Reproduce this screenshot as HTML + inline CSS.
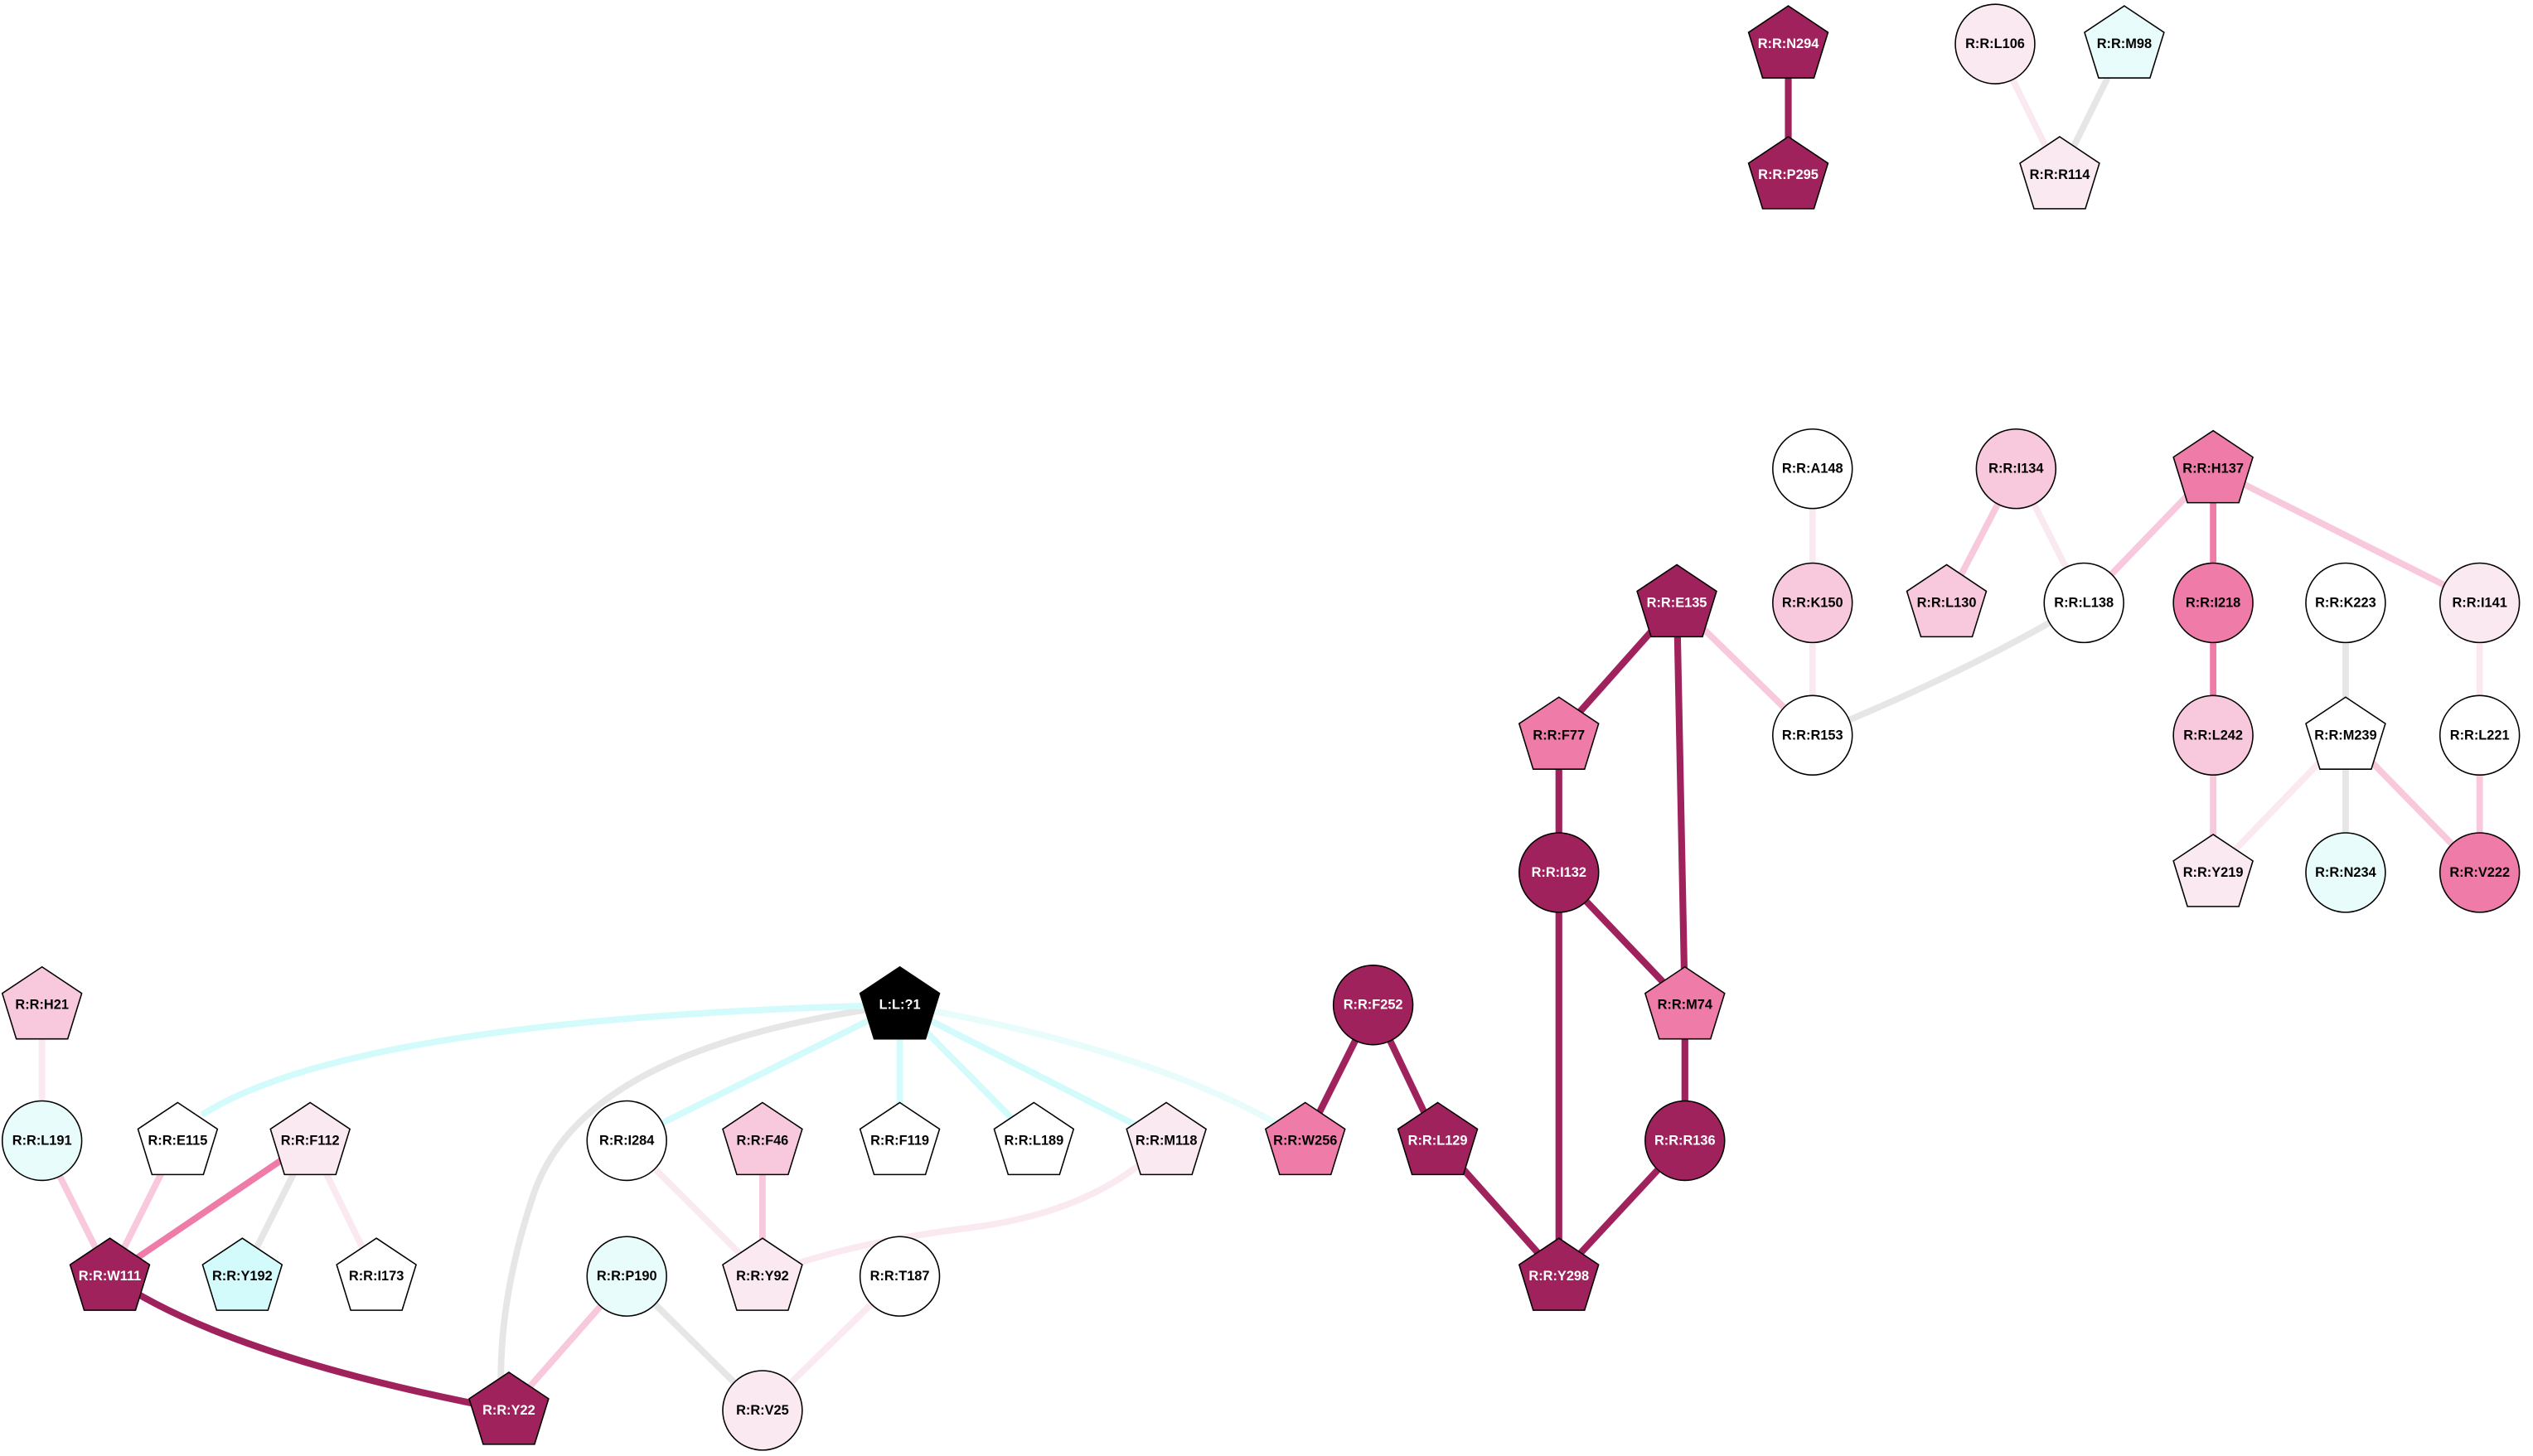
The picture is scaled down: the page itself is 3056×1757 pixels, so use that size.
<!DOCTYPE html>
<html><head><meta charset="utf-8"><style>html,body{margin:0;padding:0;background:#fff}svg{display:block}text{font-family:"Liberation Sans",sans-serif;font-weight:bold;font-size:8.4px;text-anchor:middle;dominant-baseline:central}</style></head>
<body>
<svg width="3056" height="1757" viewBox="0 0 1568 901" xmlns="http://www.w3.org/2000/svg">
<defs>
<polygon id="pg" points="0,-23.6 24.6,-7.2 15.9,21 -15.9,21 -24.6,-7.2" stroke="#000" stroke-width="0.8"/>
</defs>
<g fill="none" stroke-linecap="butt">
<!-- edges -->
<g stroke="#a0225d" stroke-width="4.2">
<line x1="1107" y1="27" x2="1107" y2="108"/>
<line x1="1038" y1="373" x2="965" y2="455"/>
<line x1="1038" y1="373" x2="1043" y2="622"/>
<line x1="965" y1="455" x2="965" y2="540"/>
<line x1="965" y1="540" x2="1043" y2="622"/>
<line x1="965" y1="540" x2="965" y2="790"/>
<line x1="1043" y1="622" x2="1043" y2="706"/>
<line x1="1043" y1="706" x2="965" y2="790"/>
<line x1="850" y1="622" x2="808" y2="706"/>
<line x1="850" y1="622" x2="890" y2="706"/>
<line x1="890" y1="706" x2="965" y2="790"/>
<path d="M68,790 Q140,840 315,873"/>
</g>
<g stroke="#ef7ba9" stroke-width="4">
<line x1="1370" y1="290" x2="1370" y2="373"/>
<line x1="1370" y1="373" x2="1370" y2="455"/>
<line x1="192" y1="706" x2="68" y2="790"/>
</g>
<g stroke="#f8c8dc" stroke-width="4">
<line x1="1248" y1="290" x2="1205" y2="373"/>
<line x1="1370" y1="290" x2="1290" y2="373"/>
<line x1="1370" y1="290" x2="1535" y2="373"/>
<line x1="1038" y1="373" x2="1122" y2="455"/>
<line x1="1370" y1="455" x2="1370" y2="540"/>
<line x1="1452" y1="455" x2="1535" y2="540"/>
<line x1="1535" y1="455" x2="1535" y2="540"/>
<line x1="26" y1="706" x2="68" y2="790"/>
<line x1="110" y1="706" x2="68" y2="790"/>
<line x1="388" y1="790" x2="315" y2="873"/>
<line x1="472" y1="706" x2="472" y2="790"/>
</g>
<g stroke="#fbe9f1" stroke-width="4">
<line x1="1235" y1="27" x2="1275" y2="108"/>
<line x1="1122" y1="290" x2="1122" y2="373"/>
<line x1="1122" y1="373" x2="1122" y2="455"/>
<line x1="1248" y1="290" x2="1290" y2="373"/>
<line x1="1452" y1="455" x2="1370" y2="540"/>
<line x1="1535" y1="373" x2="1535" y2="455"/>
<line x1="26" y1="622" x2="26" y2="706"/>
<line x1="192" y1="706" x2="233" y2="790"/>
<line x1="388" y1="706" x2="472" y2="790"/>
<line x1="557" y1="790" x2="472" y2="873"/>
<path d="M722,706 Q680,750 600,760 Q520,770 472,790"/>
</g>
<g stroke="#e6e6e6" stroke-width="4">
<line x1="1315" y1="27" x2="1275" y2="108"/>
<path d="M1290,373 Q1220,415 1122,455"/>
<line x1="1452" y1="373" x2="1452" y2="455"/>
<line x1="1452" y1="455" x2="1452" y2="540"/>
<line x1="192" y1="706" x2="150" y2="790"/>
<line x1="388" y1="790" x2="472" y2="873"/>
<path d="M557,622 C420,640 350,680 330,740 C310,800 310,840 310,860"/>
</g>
<g stroke="#d4fbfb" stroke-width="4">
<path d="M557,622 Q220,630 125,690"/>
<line x1="557" y1="622" x2="388" y2="706"/>
<line x1="557" y1="622" x2="557" y2="706"/>
<line x1="557" y1="622" x2="640" y2="706"/>
<line x1="557" y1="622" x2="722" y2="706"/>
</g>
<path d="M557,622 Q720,650 808,706" stroke="#e8fcfb" stroke-width="4"/>
</g>
<!-- nodes -->
<g stroke="#000" stroke-width="0.8">
<!-- circles -->
<circle cx="1235" cy="27" r="24.6" fill="#fbe9f1"/>
<circle cx="1122" cy="290" r="24.6" fill="#fff"/>
<circle cx="1248" cy="290" r="24.6" fill="#f8c8dc"/>
<circle cx="1122" cy="373" r="24.6" fill="#f8c8dc"/>
<circle cx="1290" cy="373" r="24.6" fill="#fff"/>
<circle cx="1370" cy="373" r="24.6" fill="#ef7ba9"/>
<circle cx="1452" cy="373" r="24.6" fill="#fff"/>
<circle cx="1535" cy="373" r="24.6" fill="#fbe9f1"/>
<circle cx="1122" cy="455" r="24.6" fill="#fff"/>
<circle cx="1370" cy="455" r="24.6" fill="#f8c8dc"/>
<circle cx="1535" cy="455" r="24.6" fill="#fff"/>
<circle cx="965" cy="540" r="24.6" fill="#a0225d"/>
<circle cx="1452" cy="540" r="24.6" fill="#e8fcfb"/>
<circle cx="1535" cy="540" r="24.6" fill="#ef7ba9"/>
<circle cx="850" cy="622" r="24.6" fill="#a0225d"/>
<circle cx="26" cy="706" r="24.6" fill="#e8fcfb"/>
<circle cx="388" cy="706" r="24.6" fill="#fff"/>
<circle cx="1043" cy="706" r="24.6" fill="#a0225d"/>
<circle cx="388" cy="790" r="24.6" fill="#e8fcfb"/>
<circle cx="557" cy="790" r="24.6" fill="#fff"/>
<circle cx="472" cy="873" r="24.6" fill="#fbe9f1"/>
</g>
<use href="#pg" x="1107" y="27" fill="#a0225d"/>
<use href="#pg" x="1107" y="108" fill="#a0225d"/>
<use href="#pg" x="1315" y="27" fill="#e8fcfb"/>
<use href="#pg" x="1275" y="108" fill="#fbe9f1"/>
<use href="#pg" x="1370" y="290" fill="#ef7ba9"/>
<use href="#pg" x="1038" y="373" fill="#a0225d"/>
<use href="#pg" x="1205" y="373" fill="#f8c8dc"/>
<use href="#pg" x="965" y="455" fill="#ef7ba9"/>
<use href="#pg" x="1452" y="455" fill="#fff"/>
<use href="#pg" x="1370" y="540" fill="#fbe9f1"/>
<use href="#pg" x="557" y="622" fill="#000"/>
<use href="#pg" x="1043" y="622" fill="#ef7ba9"/>
<use href="#pg" x="26" y="622" fill="#f8c8dc"/>
<use href="#pg" x="110" y="706" fill="#fff"/>
<use href="#pg" x="192" y="706" fill="#fbe9f1"/>
<use href="#pg" x="472" y="706" fill="#f8c8dc"/>
<use href="#pg" x="557" y="706" fill="#fff"/>
<use href="#pg" x="640" y="706" fill="#fff"/>
<use href="#pg" x="722" y="706" fill="#fbe9f1"/>
<use href="#pg" x="808" y="706" fill="#ef7ba9"/>
<use href="#pg" x="890" y="706" fill="#a0225d"/>
<use href="#pg" x="68" y="790" fill="#a0225d"/>
<use href="#pg" x="150" y="790" fill="#d4fbfb"/>
<use href="#pg" x="233" y="790" fill="#fff"/>
<use href="#pg" x="472" y="790" fill="#fbe9f1"/>
<use href="#pg" x="965" y="790" fill="#a0225d"/>
<use href="#pg" x="315" y="873" fill="#a0225d"/>
<!-- labels -->
<g fill="#fff">
<text x="1107" y="27">R:R:N294</text>
<text x="1107" y="108">R:R:P295</text>
<text x="1038" y="373">R:R:E135</text>
<text x="965" y="540">R:R:I132</text>
<text x="557" y="622">L:L:?1</text>
<text x="850" y="622">R:R:F252</text>
<text x="890" y="706">R:R:L129</text>
<text x="1043" y="706">R:R:R136</text>
<text x="68" y="790">R:R:W111</text>
<text x="965" y="790">R:R:Y298</text>
<text x="315" y="873">R:R:Y22</text>
</g>
<g fill="#000">
<text x="1235" y="27">R:R:L106</text>
<text x="1315" y="27">R:R:M98</text>
<text x="1275" y="108">R:R:R114</text>
<text x="1122" y="290">R:R:A148</text>
<text x="1248" y="290">R:R:I134</text>
<text x="1370" y="290">R:R:H137</text>
<text x="1122" y="373">R:R:K150</text>
<text x="1205" y="373">R:R:L130</text>
<text x="1290" y="373">R:R:L138</text>
<text x="1370" y="373">R:R:I218</text>
<text x="1452" y="373">R:R:K223</text>
<text x="1535" y="373">R:R:I141</text>
<text x="965" y="455">R:R:F77</text>
<text x="1122" y="455">R:R:R153</text>
<text x="1370" y="455">R:R:L242</text>
<text x="1452" y="455">R:R:M239</text>
<text x="1535" y="455">R:R:L221</text>
<text x="1370" y="540">R:R:Y219</text>
<text x="1452" y="540">R:R:N234</text>
<text x="1535" y="540">R:R:V222</text>
<text x="26" y="622">R:R:H21</text>
<text x="1043" y="622">R:R:M74</text>
<text x="26" y="706">R:R:L191</text>
<text x="110" y="706">R:R:E115</text>
<text x="192" y="706">R:R:F112</text>
<text x="388" y="706">R:R:I284</text>
<text x="472" y="706">R:R:F46</text>
<text x="557" y="706">R:R:F119</text>
<text x="640" y="706">R:R:L189</text>
<text x="722" y="706">R:R:M118</text>
<text x="808" y="706">R:R:W256</text>
<text x="150" y="790">R:R:Y192</text>
<text x="233" y="790">R:R:I173</text>
<text x="388" y="790">R:R:P190</text>
<text x="472" y="790">R:R:Y92</text>
<text x="557" y="790">R:R:T187</text>
<text x="472" y="873">R:R:V25</text>
</g>
</svg>
</body></html>
